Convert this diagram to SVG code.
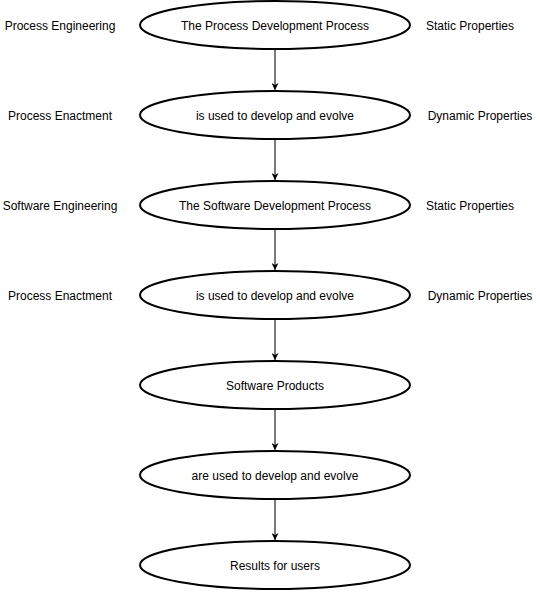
<svg xmlns="http://www.w3.org/2000/svg" width="540" height="592" viewBox="0 0 540 592">
<style>
.n{fill:#fff;stroke:#000;stroke-width:2}
.t{font-family:"Liberation Sans",Arial,sans-serif;font-size:12px;fill:#000;text-anchor:middle;dominant-baseline:central}
.c{stroke:#333;stroke-width:1.3;fill:none}
</style>
<defs>
<marker id="a" viewBox="0 0 10 10" refX="10" refY="5" markerWidth="7" markerHeight="7" markerUnits="userSpaceOnUse" orient="auto">
<path d="M0,0 L10,5 L0,10 L3,5 Z" fill="#000"/>
</marker>
</defs>
<rect width="540" height="592" fill="#fff"/>
<g id="connectors">
<line class="c" x1="275" y1="50" x2="275" y2="90" marker-end="url(#a)"/>
<line class="c" x1="275" y1="140" x2="275" y2="180" marker-end="url(#a)"/>
<line class="c" x1="275" y1="230" x2="275" y2="270" marker-end="url(#a)"/>
<line class="c" x1="275" y1="320" x2="275" y2="360" marker-end="url(#a)"/>
<line class="c" x1="275" y1="410" x2="275" y2="450" marker-end="url(#a)"/>
<line class="c" x1="275" y1="500" x2="275" y2="540" marker-end="url(#a)"/>
</g>
<g id="n1"><ellipse class="n" cx="275" cy="25" rx="135" ry="24"/><text class="t" x="275" y="26">The Process Development Process</text></g>
<g id="n2"><ellipse class="n" cx="275" cy="115" rx="135" ry="24"/><text class="t" x="275" y="116">is used to develop and evolve</text></g>
<g id="n3"><ellipse class="n" cx="275" cy="205" rx="135" ry="24"/><text class="t" x="275" y="206">The Software Development Process</text></g>
<g id="n4"><ellipse class="n" cx="275" cy="295" rx="135" ry="24"/><text class="t" x="275" y="296">is used to develop and evolve</text></g>
<g id="n5"><ellipse class="n" cx="275" cy="385" rx="135" ry="24"/><text class="t" x="275" y="386">Software Products</text></g>
<g id="n6"><ellipse class="n" cx="275" cy="475" rx="135" ry="24"/><text class="t" x="275" y="476">are used to develop and evolve</text></g>
<g id="n7"><ellipse class="n" cx="275" cy="565" rx="135" ry="24"/><text class="t" x="275" y="566">Results for users</text></g>
<g id="labels">
<text class="t" x="60" y="26">Process Engineering</text>
<text class="t" x="60" y="116">Process Enactment</text>
<text class="t" x="60" y="206">Software Engineering</text>
<text class="t" x="60" y="296">Process Enactment</text>
<text class="t" x="470" y="26">Static Properties</text>
<text class="t" x="480" y="116">Dynamic Properties</text>
<text class="t" x="470" y="206">Static Properties</text>
<text class="t" x="480" y="296">Dynamic Properties</text>
</g>
</svg>
